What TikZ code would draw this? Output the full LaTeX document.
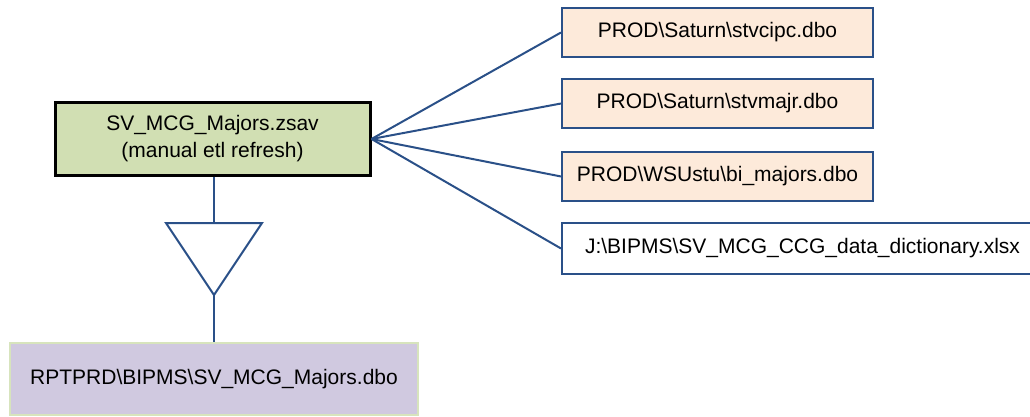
\documentclass[tikz,border=0pt]{standalone}
\usepackage{fontspec}
\setmainfont{Liberation Sans}
\definecolor{wire}{HTML}{2A5088}
\definecolor{etlgreen}{HTML}{D1DFB3}
\definecolor{srcfill}{HTML}{FDEADA}
\definecolor{outfill}{HTML}{D0C9E0}
\definecolor{outline}{HTML}{D7E4BD}

\begin{document}
\begin{tikzpicture}[
  x=1pt,y=-1pt,font=\fontsize{21}{27}\selectfont,
  box/.style={line width=2pt,minimum height=49pt,inner sep=0pt,align=center},
  etl/.style={box,draw=black,line width=3pt,fill=etlgreen,minimum width=315pt,minimum height=72pt},
  source/.style={box,draw=wire,fill=srcfill,minimum width=311pt},
  doc/.style={box,draw=wire,fill=white,minimum width=481pt,minimum height=51pt},
  output/.style={box,draw=outline,fill=outfill,minimum width=408pt,minimum height=72pt},
  link/.style={draw=wire,line width=2pt}
]
\path[use as bounding box] (0,0) rectangle (1030,417);
\node[etl] (zsav) at (212.5,139) {SV\_MCG\_Majors.zsav\\(manual etl refresh)};
\node[source] (stvcipc) at (717.5,32.5) {PROD\textbackslash Saturn\textbackslash stvcipc.dbo};
\node[source] (stvmajr) at (717.5,103.5) {PROD\textbackslash Saturn\textbackslash stvmajr.dbo};
\node[source] (bimajors) at (717.5,176.5) {PROD\textbackslash WSUstu\textbackslash bi\_majors.dbo};
\node[doc] (dict) at (802.5,248.5) {J:\textbackslash BIPMS\textbackslash SV\_MCG\_CCG\_data\_dictionary.xlsx};
\node[output] (rptdbo) at (214,379) {RPTPRD\textbackslash BIPMS\textbackslash SV\_MCG\_Majors.dbo};

\foreach \src in {stvcipc,stvmajr,bimajors,dict}
  \draw[link] (zsav.east) -- (\src.west);

% merge triangle
\coordinate (triL) at (166,223);
\coordinate (triR) at (262,223);
\coordinate (triT) at (214,223);
\coordinate (triA) at (214,295);
\draw[link,line join=miter] (triL) -- (triR) -- (triA) -- cycle;
\draw[link] (zsav.south -| triT) -- (triT);
\draw[link] (triA) -- (rptdbo.north -| triA);
\end{tikzpicture}
\end{document}
